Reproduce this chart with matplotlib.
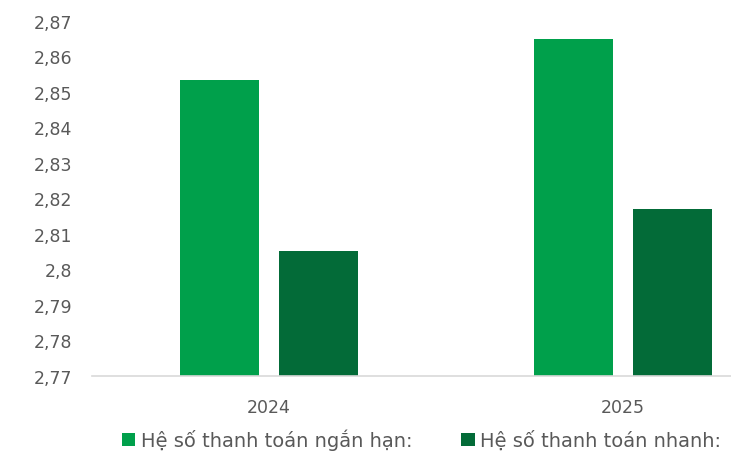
import matplotlib.pyplot as plt
import numpy as np

years = ['2024', '2025']
ngan_han = [2.8535, 2.8648]
nhanh = [2.8053, 2.8171]
labels = ['Hệ số thanh toán ngắn hạn:', 'Hệ số thanh toán nhanh:']
colors = ['#00A04B', '#036B38']

plt.rcParams['font.family'] = ['DejaVu Sans']

fig = plt.figure(figsize=(7.31, 4.56), dpi=100)
ax = fig.add_axes([92 / 731, (456 - 377) / 456, 1 - 92 / 731, (377 - 22) / 456])

x = np.arange(len(years))
w = 0.223
ax.bar(x - 0.141, ngan_han, w, color=colors[0], label=labels[0])
ax.bar(x + 0.141, nhanh, w, color=colors[1], label=labels[1])

ax.set_xlim(-0.5, 1.305)
ax.set_ylim(2.77, 2.87)
yt = np.round(np.arange(2.77, 2.8701, 0.01), 2)
ax.set_yticks(yt)
ax.set_yticklabels([('%g' % v).replace('.', ',') for v in yt])
ax.set_xticks(x)
ax.set_xticklabels(years)
ax.tick_params(axis='both', length=0, labelsize=12.5, colors='#595959')
ax.tick_params(axis='y', pad=14)
ax.tick_params(axis='x', pad=16)
for s in ['top', 'right', 'left']:
    ax.spines[s].set_visible(False)
ax.spines['bottom'].set_color('#d9d9d9')
ax.spines['bottom'].set_linewidth(1.2)

fig.legend(loc='lower left', bbox_to_anchor=(104 / 731, -0.028), ncol=2,
           frameon=False, fontsize=14, handlelength=0.7, handleheight=0.7,
           handletextpad=0.3, columnspacing=2.5, labelcolor='#595959')

fig.savefig('out.png', dpi=100)
